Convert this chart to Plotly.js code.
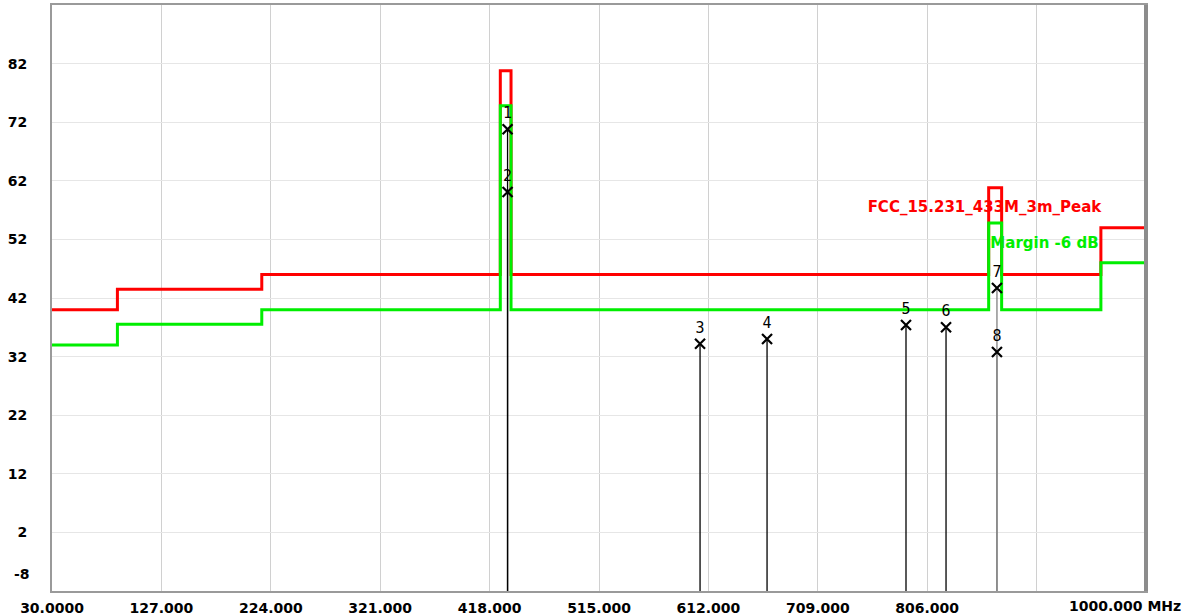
<!DOCTYPE html>
<html>
<head>
<meta charset="utf-8">
<script src="https://cdn.plot.ly/plotly-3.0.1.min.js"></script>
<style>
  html, body { margin: 0; padding: 0; background: #ffffff; }
  #chart { width: 1191px; height: 616px; }
</style>
</head>
<body>
<div id="chart"></div>
<script>
// ---- data ----
const freqBreaks   = [30, 88, 216, 427.5, 437, 860.5, 872, 960, 1000];   // MHz, step starts
const limitLevels  = [40, 43.5, 46, 80.8, 46, 60.8, 46, 54, 54];          // FCC_15.231_433M_3m_Peak, dBuV/m
const marginLevels = [34, 37.5, 40, 74.8, 40, 54.8, 40, 48, 48];          // Margin -6 dB

const markerIds    = ['1', '2', '3', '4', '5', '6', '7', '8'];
const markerFreq   = [433.92, 433.92, 604.6, 664.0, 787.2, 822.7, 867.84, 867.84];
const markerLevel  = [70.8, 60.1, 34.2, 35.0, 37.4, 37.0, 43.7, 32.8];

const xTickVals  = [30, 127, 224, 321, 418, 515, 612, 709, 806, 903, 1000];
const xTickText  = ['30.0000', '127.000', '224.000', '321.000', '418.000', '515.000', '612.000', '709.000', '806.000', '', ''];
const yTickVals  = [2, 12, 22, 32, 42, 52, 62, 72, 82];
const xRange = [30, 1000];
const yRange = [-8, 92];

// ---- styles ----
const labelFont = {family: 'DejaVu Sans', size: 14, color: '#000000', weight: 'bold'};
const markerLineColors = ['#000000', '#000000', '#000000', '#000000', '#000000', '#000000', '#808080', '#808080'];

const traces = [];

// legend-like labels drawn first so lines pass over them
traces.push({
  x: [856.8], y: [57.4], mode: 'text', text: ['FCC_15.231_433M_3m_Peak'],
  textfont: {family: 'DejaVu Sans', size: 15, color: '#ff0000', weight: 'bold'},
  hoverinfo: 'skip', showlegend: false
});
traces.push({
  x: [910], y: [51.2], mode: 'text', text: ['Margin -6 dB'],
  textfont: {family: 'DejaVu Sans', size: 15, color: '#00ee00', weight: 'bold'},
  hoverinfo: 'skip', showlegend: false
});

// limit line
traces.push({
  x: freqBreaks, y: limitLevels, mode: 'lines',
  line: {color: '#ff0000', width: 3, shape: 'hv'},
  showlegend: false, name: 'FCC_15.231_433M_3m_Peak'
});
// margin line
traces.push({
  x: freqBreaks, y: marginLevels, mode: 'lines',
  line: {color: '#00ee00', width: 3, shape: 'hv'},
  showlegend: false, name: 'Margin -6 dB'
});

// marker stems
for (let i = 0; i < markerFreq.length; i++) {
  traces.push({
    x: [markerFreq[i], markerFreq[i]], y: [yRange[0], markerLevel[i]],
    mode: 'lines', line: {color: markerLineColors[i], width: 1.3},
    hoverinfo: 'skip', showlegend: false
  });
}

// markers with numbers
traces.push({
  x: markerFreq, y: markerLevel, mode: 'markers+text',
  text: markerIds, textposition: 'top center',
  textfont: {family: 'DejaVu Sans Mono', size: 15, color: '#000000'},
  marker: {symbol: 'x-thin', size: 10, color: '#000000', line: {color: '#000000', width: 2.2}},
  showlegend: false, name: 'Markers'
});

const layout = {
  width: 1191, height: 616,
  margin: {l: 52, r: 45, t: 5, b: 25},
  paper_bgcolor: '#ffffff', plot_bgcolor: '#ffffff',
  showlegend: false,
  xaxis: {
    range: xRange, tickmode: 'array', tickvals: xTickVals, ticktext: xTickText,
    showgrid: true, gridcolor: '#d0d0d0', gridwidth: 1,
    showline: true, mirror: true, linecolor: '#9a9a9a', linewidth: 2,
    ticks: '', zeroline: false, tickfont: labelFont, ticklabelstandoff: 3
  },
  yaxis: {
    range: yRange, tickmode: 'array', tickvals: yTickVals,
    showgrid: true, gridcolor: '#e6e6e6', gridwidth: 1,
    showline: true, mirror: true, linecolor: '#9a9a9a', linewidth: 2,
    ticks: '', zeroline: false, tickfont: labelFont, ticklabelstandoff: 20
  },
  shapes: [
    {type: 'line', xref: 'paper', yref: 'paper', x0: 1, x1: 1, y0: 0, y1: 1,
     line: {color: '#8c8c8c', width: 4}}
  ],
  annotations: [
    {xref: 'paper', yref: 'paper', x: 1, y: 0, xanchor: 'right', yanchor: 'top',
     xshift: 37, yshift: -5, showarrow: false, text: '1000.000 MHz', font: labelFont},
    {xref: 'paper', yref: 'y', x: 0, y: yRange[0], xanchor: 'right', yanchor: 'middle',
     xshift: -20, yshift: 17, showarrow: false, text: '-8', font: labelFont}
  ]
};

Plotly.newPlot('chart', traces, layout, {staticPlot: true, displayModeBar: false});
</script>
</body>
</html>
